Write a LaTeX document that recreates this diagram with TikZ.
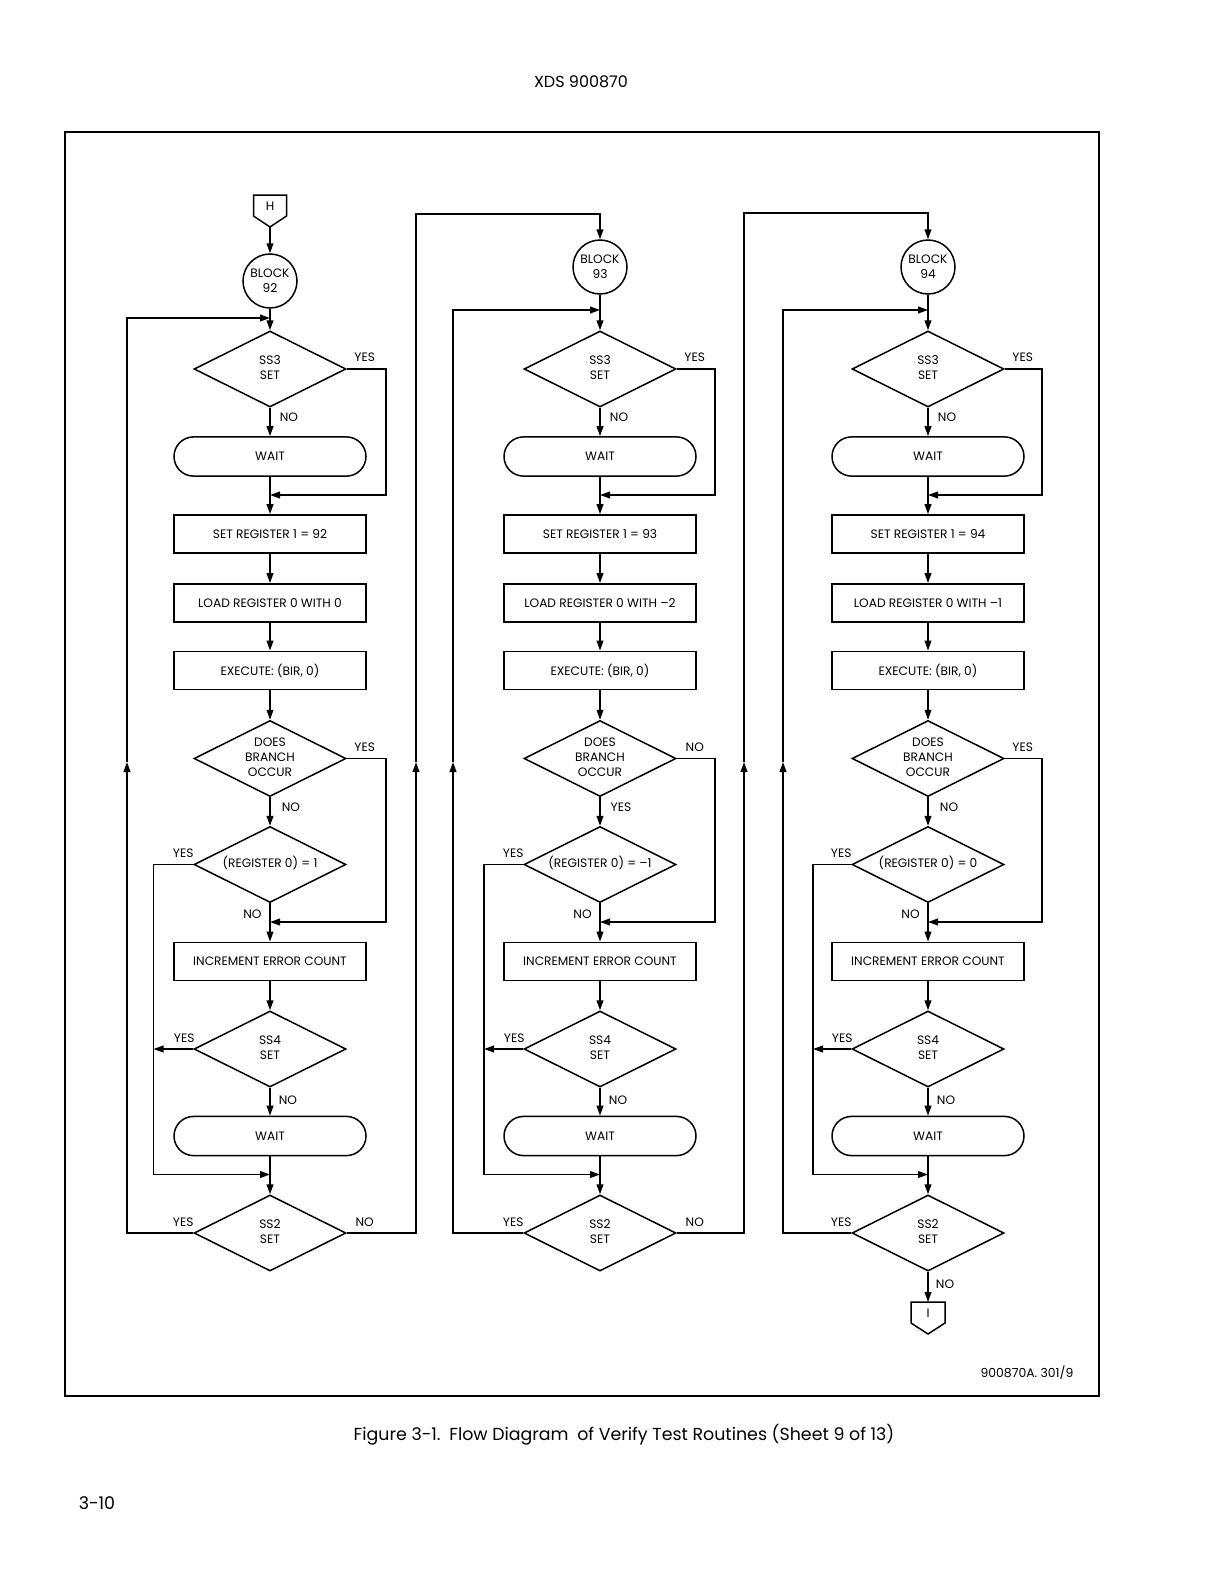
\documentclass[tikz,border=0pt]{standalone}
\usepackage{fontspec}
\setmainfont{Poppins}
\usetikzlibrary{shapes,arrows.meta,positioning}

\newcommand{\stk}[1]{\makebox[0pt]{\begin{tabular}{@{}c@{}}#1\end{tabular}}}

\begin{document}
\begin{tikzpicture}[
  x=0.5pt, y=-0.5pt,
  line width=0.75pt,
  >={Stealth[length=5pt,width=3.4pt,inset=0pt]},
  every node/.style={font=\fontsize{6.1}{7.5}\selectfont},
  procbox/.style={draw,minimum width=96pt,minimum height=19.2pt,inner sep=0pt},
  waitbox/.style={draw,rounded corners=9.8pt,minimum width=96pt,minimum height=19.6pt,inner sep=0pt},
  decide/.style={draw,diamond,minimum width=76pt,minimum height=38pt,inner sep=0pt},
  blockc/.style={draw,circle,minimum size=27pt,inner sep=0.5pt,align=center},
  lbl/.style={inner sep=0pt}
]
\useasboundingbox[fill=white] (0,0) rectangle (1224,1584);

% Page texts and frame
\node[font=\fontsize{8}{9}\selectfont] (hdr) at (581,82) {XDS 900870};
\draw[line width=1pt] (65,132) rectangle (1099,1396);
\node[font=\fontsize{6.2}{7}\selectfont] (fig) at (1027,1373) {900870A. 301/9};
\node[font=\fontsize{8.7}{10}\selectfont] (cap) at (624,1435)
  {Figure 3-1.\enspace Flow Diagram\enspace of Verify Test Routines (Sheet 9 of 13)};
\node[font=\fontsize{8.7}{10}\selectfont] (pg) at (97,1503) {3-10};

% Entry connector
\node[lbl] (H) at (270,206) {H};
\draw (H.center) ++(-16.5,-11) -- ++(33,0) -- ++(0,21) -- ++(-16.5,11) -- ++(-16.5,-11) -- cycle;
\coordinate (Htip) at ([shift={(0,21)}]H.center);

% Three columns
\foreach \i/\X/\by/\ly/\lv/\rv/\bR/\bB/\Lx/\lx/\rx in
  {1/270/281/318/0/1/YES/NO/127/153.5/386,
   2/600/267/310/--2/--1/NO/YES/453/484/715,
   3/928/267/310/--1/0/YES/NO/783/813/1042}{
  \pgfmathtruncatemacro\bn{91+\i}
  \node[blockc] (blk\i) at (\X,\by) {BLOCK\\\bn};
  \node[decide] (ssa\i) at (\X,369) {\stk{SS3\\SET}};
  \node[waitbox] (waita\i) at (\X,456.5) {WAIT};
  \node[procbox] (setr\i) at (\X,534) {SET REGISTER 1 = \bn};
  \node[procbox] (load\i) at (\X,603) {LOAD REGISTER 0 WITH \lv};
  \node[procbox] (exec\i) at (\X,670.5) {EXECUTE: (BIR, 0)};
  \node[decide] (br\i) at (\X,758.5) {\stk{DOES\\BRANCH\\OCCUR}};
  \node[decide] (reg\i) at (\X,864.5) {\stk{(REGISTER 0) = \rv}};
  \node[procbox] (inc\i) at (\X,961.5) {INCREMENT ERROR COUNT};
  \node[decide] (ssb\i) at (\X,1049) {\stk{SS4\\SET}};
  \node[waitbox] (waitb\i) at (\X,1136) {WAIT};
  \node[decide] (ssc\i) at (\X,1233) {\stk{SS2\\SET}};

  \coordinate (top\i) at (\X,\ly);
  \coordinate (j1\i) at (\X,495);
  \coordinate (j2\i) at (\X,922);
  \coordinate (j3\i) at (\X,1174.5);
  \coordinate (in\i) at (\lx,1049);
  \coordinate (lup\i) at (\Lx,762);

  % main line
  \draw[->] (blk\i) -- (ssa\i);
  \draw[->] (ssa\i) -- (waita\i);
  \draw[->] (waita\i) -- (setr\i);
  \draw[->] (setr\i) -- (load\i);
  \draw[->] (load\i) -- (exec\i);
  \draw[->] (exec\i) -- (br\i);
  \draw[->] (br\i) -- (reg\i);
  \draw[->] (reg\i) -- (inc\i);
  \draw[->] (inc\i) -- (ssb\i);
  \draw[->] (ssb\i) -- (waitb\i);
  \draw[->] (waitb\i) -- (ssc\i);

  % side branches
  \draw[->] (ssa\i.east) -| (\rx,495) -- (j1\i);
  \draw[->] (br\i.east) -| (\rx,922) -- (j2\i);
  \draw[->] (reg\i.west) -| (\lx,1174.5) -- (j3\i);
  \draw[->] (ssb\i.west) -- (in\i);
  \draw[->] (ssc\i.west) -| (lup\i);
  \draw[->] (lup\i) |- (top\i);

  % labels
  \node[lbl] (ssaY\i) at ([shift={(18,-11.5)}]ssa\i.east) {YES};
  \node[lbl] (ssaN\i) at ([shift={(19,9)}]ssa\i.south) {NO};
  \node[lbl] (brR\i) at ([shift={(18,-11.5)}]br\i.east) {\bR};
  \node[lbl] (brB\i) at ([shift={(21,10)}]br\i.south) {\bB};
  \node[lbl] (regY\i) at ([shift={(-10,-11.5)}]reg\i.west) {YES};
  \node[lbl] (regN\i) at ([shift={(-17.5,10.5)}]reg\i.south) {NO};
  \node[lbl] (ssbY\i) at ([shift={(-9,-11)}]ssb\i.west) {YES};
  \node[lbl] (ssbN\i) at ([shift={(18,12)}]ssb\i.south) {NO};
  \node[lbl] (sscY\i) at ([shift={(-10,-11)}]ssc\i.west) {YES};
}

% Links between columns
\coordinate (rup1) at (416,762);
\coordinate (rup2) at (744,762);
\draw[->] (ssc1.east) -| (rup1);
\draw[->] (rup1) |- (600,214) -- (blk2);
\draw[->] (ssc2.east) -| (rup2);
\draw[->] (rup2) |- (928,213) -- (blk3);
\node[lbl] (sscN1) at ([shift={(18,-11)}]ssc1.east) {NO};
\node[lbl] (sscN2) at ([shift={(18,-11)}]ssc2.east) {NO};

% Exit connector
\node[lbl] (I) at (928,1313) {I};
\draw (I.center) ++(-17,-11) -- ++(34,0) -- ++(0,21) -- ++(-17,11) -- ++(-17,-11) -- cycle;
\coordinate (Itop) at ([shift={(0,-11)}]I.center);
\draw[->] (ssc3) -- (Itop);
\node[lbl] (sscN3) at ([shift={(17,12)}]ssc3.south) {NO};
\draw[->] (Htip) -- (blk1);

\end{tikzpicture}
\end{document}
